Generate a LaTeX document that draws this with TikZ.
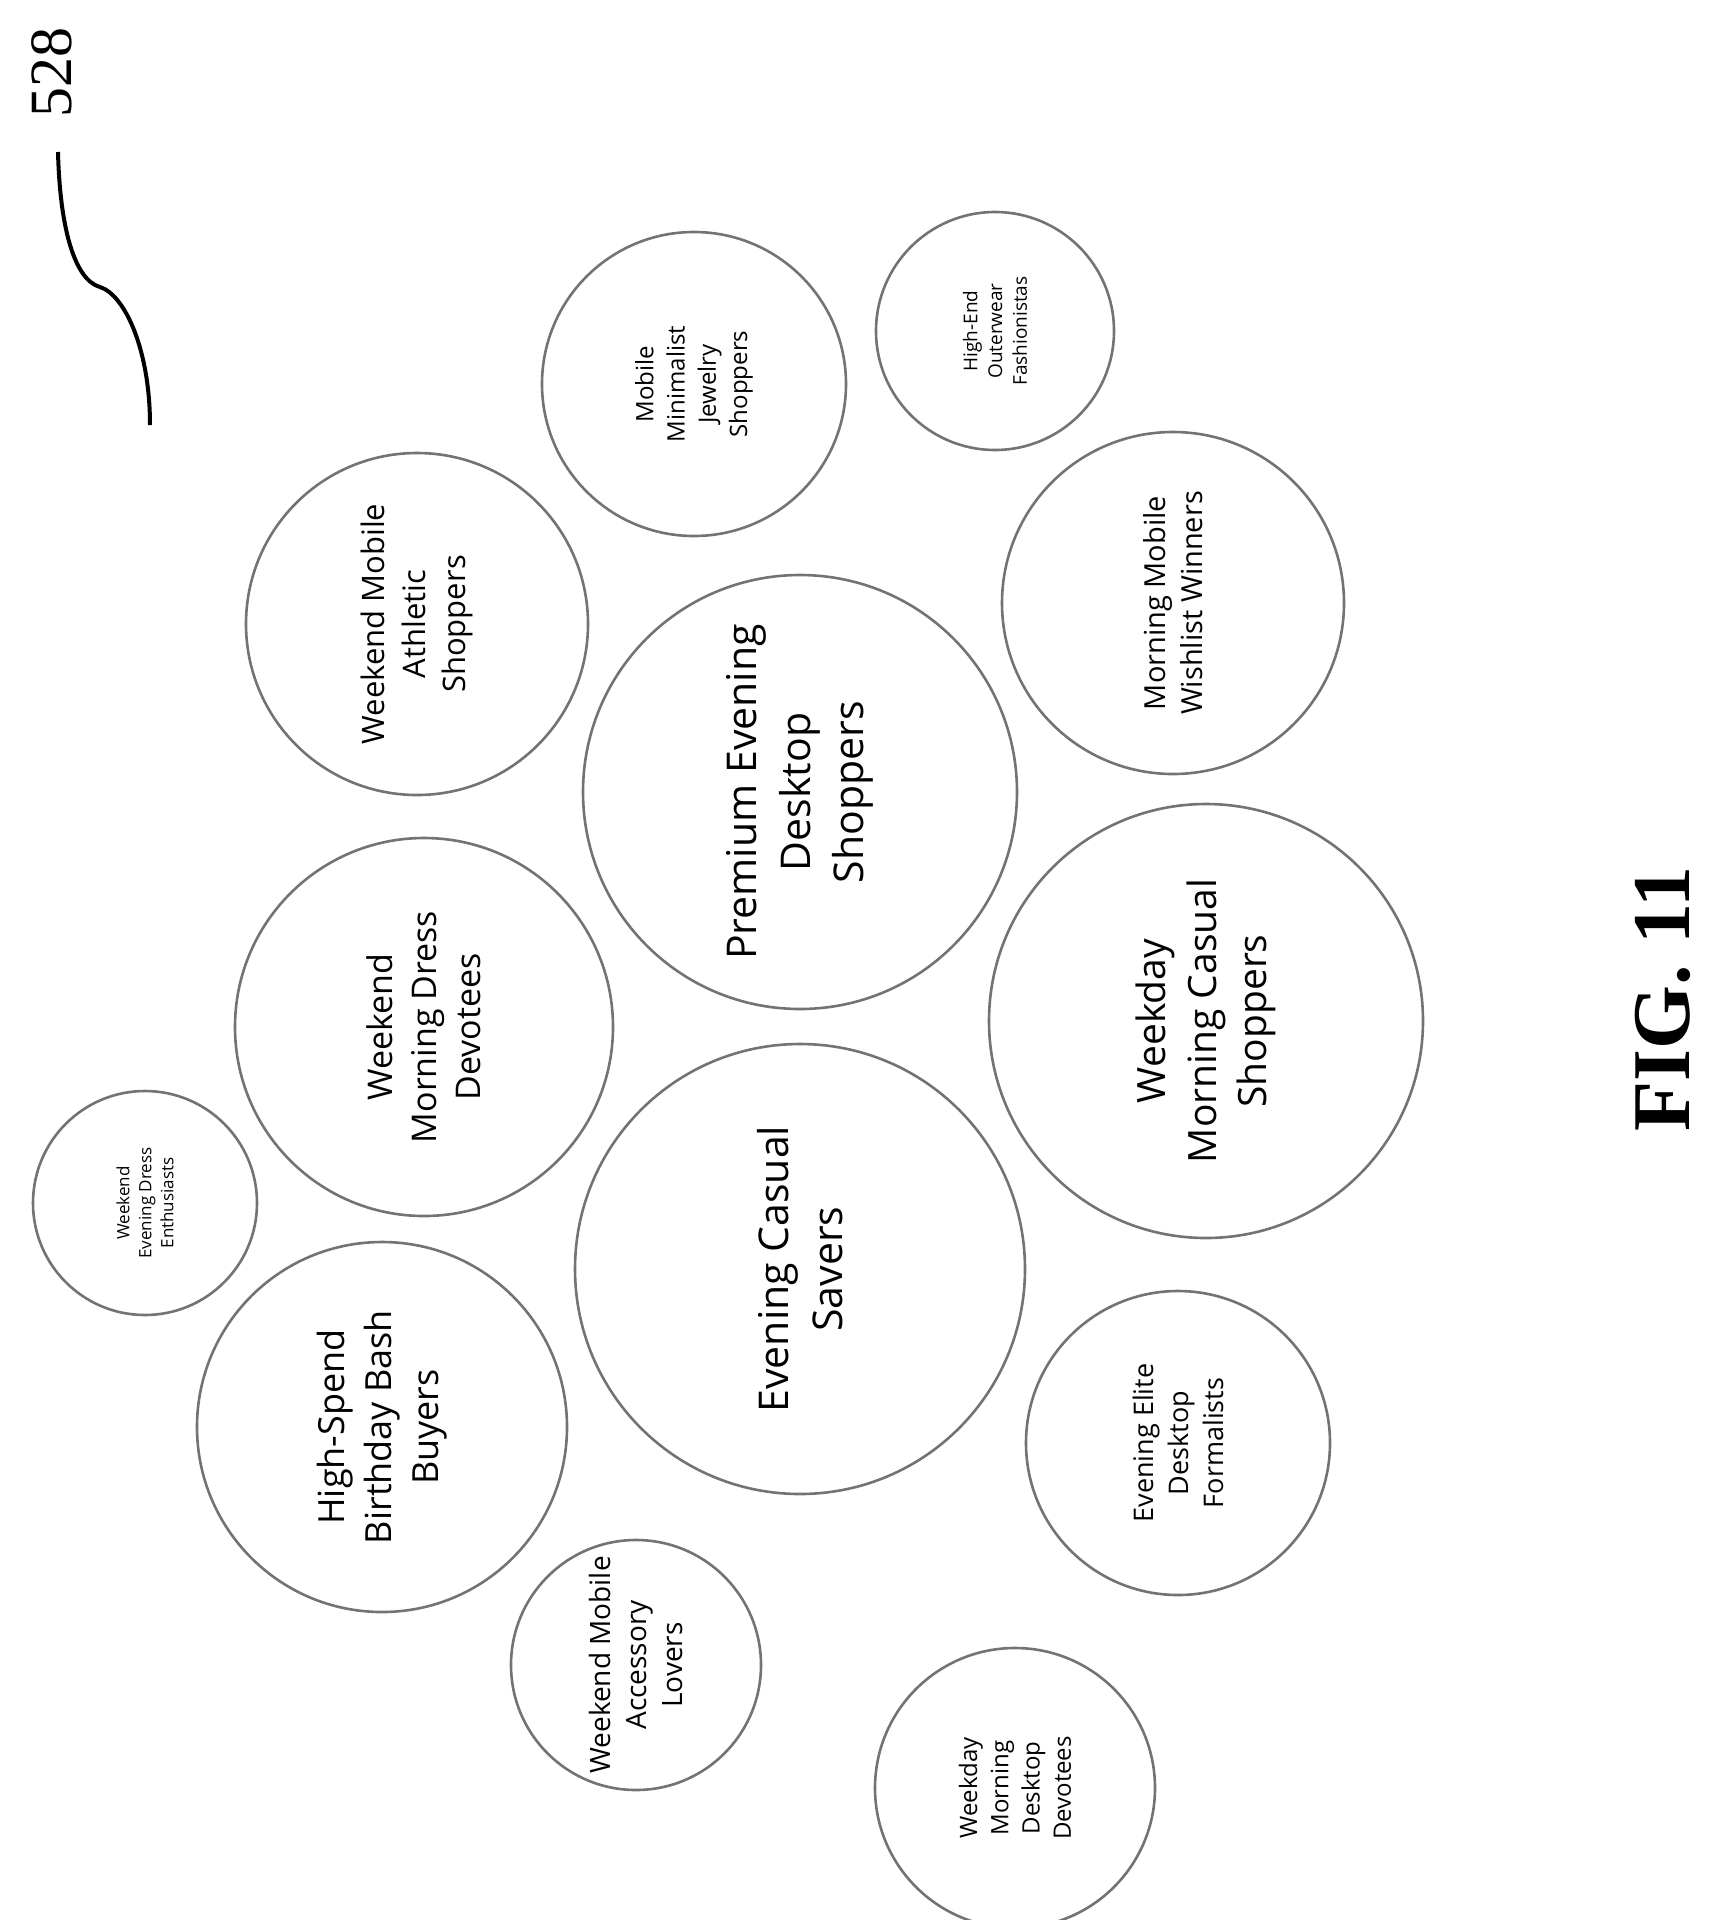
\documentclass[tikz,border=0pt]{standalone}
\usepackage{fontspec}
\setmainfont{Open Sans}
\newfontfamily\serifb{Liberation Serif}
\begin{document}
\begin{tikzpicture}[x=1pt,y=-1pt,
  seg/.style={circle,draw=black!55,line width=2.6pt,inner sep=0pt,align=center,rotate=90},
  fs/.style={font=\fontsize{#1pt}{1.3\dimexpr #1pt\relax}\selectfont}]
\useasboundingbox (0,0) rectangle (1720,1920);
\def\C#1#2#3#4#5#6{\node[seg,minimum size=#4*2pt,fs=#5] (#1) at (#2,#3) {#6};}
\C{mmj}{694}{384}{152}{24}{Mobile\\Minimalist\\Jewelry\\Shoppers}
\C{heo}{995}{331}{119}{19}{High-End\\Outerwear\\Fashionistas}
\C{wma}{417}{624}{171}{31}{Weekend Mobile\\Athletic\\Shoppers}
\C{mmw}{1173}{603}{171}{29}{Morning Mobile\\Wishlist Winners}
\C{ped}{800}{792}{217}{41}{Premium Evening\\Desktop\\Shoppers}
\C{wmd}{424}{1027}{189}{34}{Weekend\\Morning Dress\\Devotees}
\C{wmc}{1206}{1021}{217}{39}{Weekday\\Morning Casual\\Shoppers}
\C{wed}{145}{1203}{112}{17}{Weekend\\Evening Dress\\Enthusiasts}
\C{ecs}{800}{1269}{225}{41}{Evening Casual\\Savers}
\C{hsb}{382}{1427}{185}{36}{High-Spend\\Birthday Bash\\Buyers}
\C{eed}{1178}{1443}{152}{27}{Evening Elite\\Desktop\\Formalists}
\C{wmal}{636}{1665}{125}{28}{Weekend Mobile\\Accessory\\Lovers}
\C{wmdd}{1015}{1788}{140}{24}{Weekday\\Morning\\Desktop\\Devotees}
\node[rotate=90,font=\serifb\bfseries\fontsize{82pt}{90pt}\selectfont] (fig) at (1663,999) {FIG. 11};
\node[rotate=90,font=\serifb\fontsize{60pt}{66pt}\selectfont] (num) at (52,72) {528};
\coordinate (c0) at (58,152);
\coordinate (c1) at (100,287);
\coordinate (c2) at (150,425);
\draw[line width=4pt] (c0) .. controls (60,230) and (75,280) .. (c1) .. controls (125,295) and (150,350) .. (c2);
\end{tikzpicture}
\end{document}
